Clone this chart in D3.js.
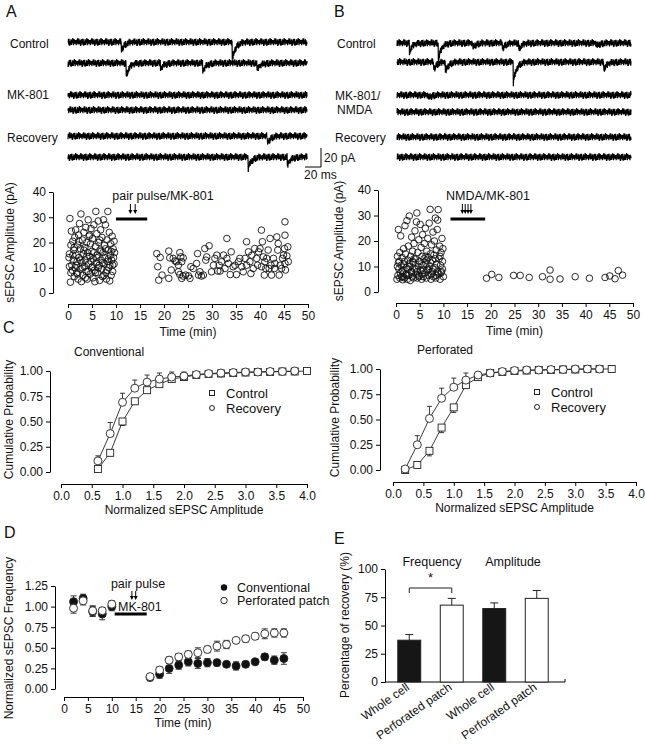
<!DOCTYPE html>
<html>
<head>
<meta charset="utf-8">
<script src="https://cdn.jsdelivr.net/npm/d3@7"></script>
<style>
body { margin: 0; background: #fff; }
svg { font-family: "Liberation Sans", Arial, sans-serif; }
</style>
</head>
<body>
<div id="fig"></div>
<script>
///////////////////////////////////////////////////////////////////////////////////////////////////
// data

// example traces: events are [time (ms), amplitude (pA)] inside a 300 ms sweep
var trace_ms = 300;
var evA_ctrl1 = [[67, 9], [206, 20]];
var evA_ctrl2 = [[73, 14], [116, 7], [169, 10], [237, 8]];
var evA_mk1 = [];
var evA_mk2 = [];
var evA_rec1 = [[250, 8]];
var evA_rec2 = [[226, 13], [275, 10]];
var evB_ctrl1 = [[16, 9], [53, 18], [97, 5], [135, 6], [156, 7], [255, 4]];
var evB_ctrl2 = [[47, 8], [62, 10], [149, 23], [265, 9]];
var evB_mk1 = [[40, 3]];
var evB_mk2 = [];
var evB_rec1 = [];
var evB_rec2 = [];
var noise_pA = [0.4, -1.8, 2.1, -0.6, 1.3, -2.4, 0.9, -0.2, 2.6, -1.1, 0.1, -2.9, 1.7, -0.8, 2.3, -1.5, 0.6, -2.2,
    1.1, -0.4, 2.8, -1.9, 0.3, -1.2, 1.9, -2.6, 0.8, -0.1, 2.4, -1.6, 1.4, -2.0, 0.2, -0.9, 2.0, -2.7, 1.0, -0.5,
    1.6, -1.3, 2.7, -2.3, 0.5, -0.7, 1.2, -2.1, 2.2, -1.0, 0.7, -2.5, 1.5, -0.3, 1.8];

// sEPSC amplitude vs time, [min, pA]
var ampA_before = [[0.2,14],[0.3,15.5],[0.4,29.5],[0.5,4.3],[0.6,19],[0.7,24.5],[0.8,11],[0.9,9],[1.0,20.5],[1.1,13],
    [1.2,17],[1.3,6.5],[1.4,22],[1.5,10],[1.6,25],[1.7,15],[1.8,8],[1.9,12.5],[2.0,19],[2.1,5.5],[2.2,23],[2.3,14],
    [2.4,27.5],[2.5,9.5],[2.6,17.5],[2.7,31.3],[2.8,4.5],[2.9,12],[3.0,21],[3.1,7],[3.2,15.5],[3.3,24],[3.4,10.5],
    [3.5,18],[3.6,13],[3.7,26],[3.8,8.5],[3.9,20],[4.0,5.5],[4.1,16],[4.2,29],[4.3,11.5],[4.4,22.5],[4.5,14.5],
    [4.6,7.5],[4.7,19.5],[4.8,25.5],[4.9,10],[5.0,16.5],[5.1,21.5],[5.2,6],[5.3,13.5],[5.4,27],[5.5,9],[5.6,4.5],
    [5.7,18.5],[5.8,32.3],[5.9,12],[6.0,23.5],[6.1,15],[6.2,8],[6.3,28.5],[6.4,20],[6.5,11],[6.6,5],[6.7,17],
    [6.8,25],[6.9,13],[7.0,9.5],[7.1,22],[7.2,6.5],[7.3,16],[7.4,29],[7.5,11.5],[7.6,19],[7.7,14],[7.8,27],[7.9,8],
    [8.0,5.5],[8.1,21],[8.2,12.5],[8.3,32.3],[8.4,17],[8.5,10],[8.6,24],[8.7,4.8],[8.8,15],[8.9,19.5],[9.0,7],
    [9.1,13],[9.2,22.5],[9.3,11],[9.4,17.5],[9.5,14],[9.6,20.5],[9.7,16],
    [0.3,10.5],[0.6,8],[1.0,15],[1.3,18],[1.7,11],[2.0,7.5],[2.3,20.5],[2.6,13],[3.0,10],[3.3,17],[3.6,6],
    [3.9,14.5],[4.2,8.5],[4.5,23],[4.8,12.5],[5.1,10.5],[5.4,16],[5.7,8],[6.0,14],[6.3,10],[6.6,21],[6.9,16.5],
    [7.2,12],[7.5,7],[7.8,17.5],[8.1,9],[8.4,13.5],[8.7,11],[9.0,16.5],[9.3,8.5],[9.6,11.5]];
var ampA_after = [[18.5,15.6],[19.2,14.1],[18.7,10.4],[18.9,5.1],[19.6,7.1],[21.0,16.6],[21.2,13.9],[21.0,5.8],
    [21.5,9.1],[21.9,13.7],[22.3,12.7],[22.6,12.4],[23.0,11.0],[23.3,16.0],[23.5,14.3],[23.7,12.4],[24.0,13.9],
    [23.0,8.4],[23.3,7.3],[23.7,5.8],[24.0,6.7],[24.5,7.1],[25.1,6.8],[25.4,5.8],[25.6,10.4],[26.1,9.7],[26.8,11.7],
    [27.0,15.6],[27.2,7.1],[27.5,8.4],[27.8,6.7],[28.2,7.1],[28.5,17.6],[28.7,13.0],[28.9,14.3],[29.4,18.7],
    [29.9,8.4],[30.3,11.0],[30.6,13.7],[31.0,15.0],[31.2,8.7],[31.5,11.0],[31.7,8.7],[32.0,12.4],[32.4,15.0],
    [32.7,9.7],[33.1,21.6],[33.1,13.7],[33.4,11.7],[33.8,7.3],[34.0,16.3],[34.4,10.4],[34.8,11.0],[35.1,7.3],
    [35.5,12.4],[35.8,13.7],[36.2,10.4],[36.5,8.4],[36.9,13.7],[37.2,20.3],[37.2,11.0],[37.6,16.3],[37.9,12.4],
    [38.1,7.7],[38.3,15.0],[38.6,9.7],[38.9,17.6],[39.3,13.7],[39.5,11.0],[39.7,16.3],[40.0,17.6],[40.3,24.9],
    [40.3,10.4],[40.5,20.3],[40.7,14.3],[40.9,7.1],[41.0,12.4],[41.2,9.7],[41.4,13.7],[41.7,17.0],[41.9,9.7],
    [42.1,21.6],[42.3,11.0],[42.4,7.1],[42.8,13.7],[43.0,9.7],[43.1,11.7],[43.5,22.2],[43.7,17.0],[43.8,19.6],
    [44.0,7.1],[44.2,11.0],[44.5,9.7],[44.7,13.7],[44.9,15.0],[45.1,17.6],[45.2,28.2],[45.2,22.9],[45.2,11.7],
    [45.3,9.1],[45.6,14.7],[45.8,18.3],[45.9,12.4]];
var ampB_before = [[0.2,5],[0.3,14],[0.4,6.5],[0.5,24.5],[0.6,9],[0.7,12],[0.8,5.5],[0.9,7.5],[1.0,22],[1.1,10.5],
    [1.2,6],[1.3,13.5],[1.4,4.8],[1.5,8.5],[1.6,17],[1.7,11],[1.8,5.5],[1.9,26],[2.0,15],[2.1,7],[2.2,9.5],[2.3,28],
    [2.4,5],[2.5,12.5],[2.6,18],[2.7,6.5],[2.8,29.8],[2.9,10],[3.0,4.5],[3.1,14],[3.2,8],[3.3,21.5],[3.4,6],[3.5,16],
    [3.6,11.5],[3.7,5.5],[3.8,19],[3.9,9],[4.0,24],[4.1,13],[4.2,7],[4.3,27.5],[4.4,31],[4.5,5.5],[4.6,15.5],
    [4.7,10],[4.8,20.5],[4.9,6.5],[5.0,12],[5.1,26.5],[5.2,8.5],[5.3,17.5],[5.4,5],[5.5,14],[5.6,22.5],[5.7,10.5],
    [5.8,6],[5.9,13],[6.0,19],[6.1,7.5],[6.2,25],[6.3,11],[6.4,5.5],[6.5,16],[6.6,9],[6.7,21],[6.8,13.5],[6.9,6.5],
    [7.0,27],[7.1,10],[7.2,32.4],[7.3,15],[7.4,5],[7.5,18.5],[7.6,8],[7.7,12.5],[7.8,23.5],[7.9,6],[8.0,14.5],
    [8.1,20],[8.2,9.5],[8.3,29],[8.4,5.5],[8.5,16.5],[8.6,11],[8.7,24.5],[8.8,28.2],[8.9,32.3],[9.0,7],[9.1,13],
    [9.2,18],[9.3,5],[9.4,10.5],[9.5,15.5],[9.6,8],[9.7,21],[9.8,12],[9.9,17],[10.0,6],
    [0.3,10],[0.8,15.5],[1.3,8],[1.8,12],[2.3,6.5],[2.8,11],[3.3,7.5],[3.8,13],[4.3,9],[4.8,6],[5.3,11],[5.8,8.5],
    [6.3,14],[6.8,8.5],[7.3,11.5],[7.8,9],[8.3,13],[8.8,8],[9.3,14],[9.8,9],[0.5,11.5],[1.5,6],[2.5,9],[3.5,12],
    [4.5,8],[5.5,7],[6.5,12.5],[7.5,7],[8.5,6.5],[9.5,7.5]];
var ampB_after = [[19.1,5.4],[20.2,6.9],[21.7,5.7],[24.8,6.5],[26.2,6.5],[28.1,5.7],[30.9,6.0],[32.5,8.6],
    [32.5,5.0],[34.6,5.1],[37.8,6.0],[40.8,5.4],[44.1,5.7],[45.1,6.3],[46.2,5.2],[46.9,8.4],[47.8,6.6]];

var time_ticks = [0, 5, 10, 15, 20, 25, 30, 35, 40, 45, 50];
var amp_ticks = [0, 10, 20, 30, 40];
var pulseA_times = [13, 14];
var drugA_span = [10, 16.5];
var nmdaB_times = [14, 14.6, 15.2, 15.8];
var drugB_span = [11.5, 18.8];

// cumulative probability of normalized amplitude
var norm_ticks = [0, 0.5, 1, 1.5, 2, 2.5, 3, 3.5, 4];
var prob_ticks = [0, 0.25, 0.5, 0.75, 1];
var conv_x = [0.6, 0.8, 1.0, 1.2, 1.4, 1.6, 1.8, 2.0, 2.2, 2.4, 2.6, 2.8, 3.0, 3.2, 3.4, 3.6, 3.8, 4.0];
var conv_ctrl = [0.03, 0.19, 0.50, 0.70, 0.81, 0.87, 0.92, 0.94, 0.96, 0.97, 0.975, 0.98, 0.985, 0.99, 0.99, 0.995, 0.995, 1.0];
var conv_ctrl_err = [0.02, 0.03, 0.04, 0.03, 0.02, 0.02, 0.02, 0.01, 0.01, 0.01, 0, 0, 0, 0, 0, 0, 0, 0];
var conv_rec = [0.11, 0.38, 0.69, 0.83, 0.89, 0.92, 0.94, 0.95, 0.965, 0.975, 0.98, 0.985, 0.99, 0.99, 0.995, 0.995, 1.0];
var conv_rec_err = [0.05, 0.11, 0.09, 0.08, 0.07, 0.06, 0.05, 0.04, 0.02, 0.01, 0.01, 0, 0, 0, 0, 0, 0];
var perf_x = [0.2, 0.4, 0.6, 0.8, 1.0, 1.2, 1.4, 1.6, 1.8, 2.0, 2.2, 2.4, 2.6, 2.8, 3.0, 3.2, 3.4, 3.6];
var perf_ctrl = [0.0, 0.05, 0.19, 0.42, 0.62, 0.84, 0.92, 0.96, 0.97, 0.98, 0.985, 0.99, 0.99, 0.995, 0.995, 1.0, 1.0, 1.0];
var perf_ctrl_err = [0, 0.01, 0.05, 0.05, 0.05, 0.03, 0.02, 0.01, 0.01, 0, 0, 0, 0, 0, 0, 0, 0, 0];
var perf_rec = [0.01, 0.25, 0.51, 0.71, 0.82, 0.89, 0.94, 0.96, 0.975, 0.985, 0.99, 0.99, 0.995, 0.995, 1.0, 1.0, 1.0];
var perf_rec_err = [0.01, 0.09, 0.12, 0.10, 0.09, 0.07, 0.03, 0.02, 0.01, 0, 0, 0, 0, 0, 0, 0, 0];

// normalized frequency vs time
var freq_ticks = [0, 0.25, 0.5, 0.75, 1, 1.25];
var freq_t = [2, 4, 6, 8, 10, 18, 20, 22, 24, 26, 28, 30, 32, 34, 36, 38, 40, 42, 44, 46];
var freq_conv = [1.06, 1.10, 0.94, 0.91, 1.00, 0.14, 0.18, 0.25, 0.29, 0.33, 0.31, 0.32, 0.32, 0.30, 0.28, 0.30, 0.33, 0.39, 0.35, 0.37];
var freq_conv_err = [0.07, 0.05, 0.06, 0.07, 0.05, 0.04, 0.05, 0.06, 0.05, 0.05, 0.06, 0.05, 0.04, 0.03, 0.05, 0.03, 0.03, 0.04, 0.05, 0.07];
var freq_perf = [0.98, 1.07, 0.95, 0.95, 1.03, 0.15, 0.23, 0.35, 0.39, 0.42, 0.44, 0.48, 0.52, 0.54, 0.59, 0.61, 0.64, 0.67, 0.68, 0.68];
var freq_perf_err = [0.06, 0.05, 0.06, 0.04, 0.04, 0.03, 0.04, 0.04, 0.04, 0.04, 0.06, 0.04, 0.06, 0.05, 0.03, 0.04, 0.04, 0.06, 0.05, 0.05];
var pulseD_times = [14.2, 15];
var drugD_span = [10.6, 17.3];

// percentage of recovery
var pct_labels = ["Whole cell", "Perforated patch", "Whole cell", "Perforated patch"];
var pct_values = [37, 68, 65, 74];
var pct_err = [5, 6, 5, 7];
var pct_ticks = [0, 25, 50, 75, 100];

///////////////////////////////////////////////////////////////////////////////////////////////////

var svg = d3.select("#fig").append("svg")
    .attr("width", 645)
    .attr("height", 746);

function style_axis(g) {
    g.attr("font-family", null).attr("font-size", null);
    g.selectAll("path, line").attr("stroke", "#000");
    g.selectAll("text").attr("font-size", "12px").attr("fill", "#111");
} // end function

function add_text(x, y, s, size, anchor) {
    return svg.append("text")
        .attr("x", x).attr("y", y)
        .attr("font-size", size + "px")
        .attr("text-anchor", anchor || "start")
        .attr("fill", "#111")
        .text(s);
} // end function

function add_ylabel(x, y, s, size) {
    svg.append("text")
        .attr("transform", "translate(" + x + "," + y + ") rotate(-90)")
        .attr("text-anchor", "middle")
        .attr("font-size", size + "px")
        .attr("fill", "#111")
        .text(s);
} // end function

function add_arrow(x, y1, y2) {
    svg.append("line")
        .attr("x1", x).attr("x2", x).attr("y1", y1).attr("y2", y2 - 3)
        .attr("stroke", "#000").attr("stroke-width", 1);
    svg.append("path")
        .attr("d", "M" + (x - 2) + "," + (y2 - 4) + "L" + (x + 2) + "," + (y2 - 4) + "L" + x + "," + y2 + "Z")
        .attr("fill", "#000");
} // end function

///////////////////////////////////////////////////////////////////////////////////////////////////

function d3_trace(events, x0, x1, y_base, offset) {
    //////////////////////////////////////////////////////////////////////
    //
    // One sweep: recorded noise plus the sEPSC dips listed in events
    //
    //////////////////////////////////////////////////////////////////////
    var n = 900;
    var x = d3.scaleLinear().domain([0, trace_ms]).range([x0, x1]);
    var y = d3.scaleLinear().domain([0, 20]).range([y_base, y_base - 19]);
    var pts = [];
    for (var i = 0; i < n; i++) {
        var t = i * trace_ms / (n - 1);
        var v = 1.45 * noise_pA[(i * 7 + offset) % noise_pA.length];
        events.forEach(function(e) {
            if (t >= e[0]) { v -= e[1] * Math.exp(-(t - e[0]) / 4); }
        });
        pts.push([t, v]);
    } // end for
    svg.append("path")
        .datum(pts)
        .attr("d", d3.line().x(function(d) { return x(d[0]); }).y(function(d) { return y(d[1]); }))
        .attr("fill", "none")
        .attr("stroke", "#000")
        .attr("stroke-width", 1.2);
} // end function

///////////////////////////////////////////////////////////////////////////////////////////////////

function d3_amp_scatter(before, after, o) {
    var x = d3.scaleLinear().domain([0, 50]).range([o.x0, o.x1]);
    var y = d3.scaleLinear().domain([0, 40]).range([o.yb, o.yt]);

    svg.append("g")
        .attr("transform", "translate(0," + o.xaxis_y + ")")
        .call(d3.axisBottom(x).tickValues(time_ticks).tickSize(4).tickSizeOuter(0))
        .call(style_axis);
    svg.append("g")
        .attr("transform", "translate(" + o.yaxis_x + ",0)")
        .call(d3.axisLeft(y).tickValues(amp_ticks).tickSize(4).tickSizeOuter(0))
        .call(style_axis);

    svg.append("g").selectAll("circle")
        .data(before.concat(after))
        .join("circle")
            .attr("cx", function(d) { return x(d[0]); })
            .attr("cy", function(d) { return y(d[1]); })
            .attr("r", 3.3)
            .attr("fill", "none")
            .attr("stroke", "#111")
            .attr("stroke-width", 0.9);

    add_text((o.x0 + o.x1) / 2, o.xaxis_y + 32, "Time (min)", 12, "middle");
    add_ylabel(o.ylab_x, (o.yb + o.yt) / 2, "sEPSC Amplitude (pA)", 12);

    // drug bar and stimulus arrows
    svg.append("line")
        .attr("x1", x(o.span[0])).attr("x2", x(o.span[1]))
        .attr("y1", 219).attr("y2", 219)
        .attr("stroke", "#000").attr("stroke-width", 3);
    o.arrows.forEach(function(t) { add_arrow(x(t), 204, 214); });
    add_text(o.note_x, 200, o.note, 12.5, "middle");
} // end function

///////////////////////////////////////////////////////////////////////////////////////////////////

function d3_cdf(xs, ctrl, ctrl_err, rec, rec_err, o) {
    var x = d3.scaleLinear().domain([0, 4]).range([o.x0, o.x1]);
    var y = d3.scaleLinear().domain([0, 1]).range([o.yb, o.yt]);

    svg.append("g")
        .attr("transform", "translate(0," + o.xaxis_y + ")")
        .call(d3.axisBottom(x).tickValues(norm_ticks).tickFormat(d3.format(".1f")).tickSize(4).tickSizeOuter(0))
        .call(style_axis);
    svg.append("g")
        .attr("transform", "translate(" + o.yaxis_x + ",0)")
        .call(d3.axisLeft(y).tickValues(prob_ticks).tickFormat(d3.format(".2f")).tickSize(4).tickSizeOuter(0))
        .call(style_axis);

    var line = d3.line().x(function(d) { return x(d[0]); }).y(function(d) { return y(d[1]); });
    var c = xs.map(function(v, i) { return [v, ctrl[i], ctrl_err[i]]; });
    var r = rec.map(function(v, i) { return [xs[i], v, rec_err[i]]; });

    var g = svg.append("g").attr("stroke", "#222").attr("stroke-width", 0.9);
    g.append("path").datum(c).attr("d", line).attr("fill", "none");
    g.append("path").datum(r).attr("d", line).attr("fill", "none");

    // error bars: control downward, recovery upward
    c.filter(function(d) { return d[2] > 0; }).forEach(function(d) {
        g.append("line").attr("x1", x(d[0])).attr("x2", x(d[0])).attr("y1", y(d[1])).attr("y2", y(d[1] - d[2]));
        g.append("line").attr("x1", x(d[0]) - 2.5).attr("x2", x(d[0]) + 2.5).attr("y1", y(d[1] - d[2])).attr("y2", y(d[1] - d[2]));
    });
    r.filter(function(d) { return d[2] > 0; }).forEach(function(d) {
        g.append("line").attr("x1", x(d[0])).attr("x2", x(d[0])).attr("y1", y(d[1])).attr("y2", y(d[1] + d[2]));
        g.append("line").attr("x1", x(d[0]) - 2.5).attr("x2", x(d[0]) + 2.5).attr("y1", y(d[1] + d[2])).attr("y2", y(d[1] + d[2]));
    });

    g.selectAll("rect.sq").data(c).join("rect")
        .attr("class", "sq")
        .attr("x", function(d) { return x(d[0]) - 3.5; })
        .attr("y", function(d) { return y(d[1]) - 3.5; })
        .attr("width", 7).attr("height", 7)
        .attr("fill", "#fff");
    g.selectAll("circle.rc").data(r).join("circle")
        .attr("class", "rc")
        .attr("cx", function(d) { return x(d[0]); })
        .attr("cy", function(d) { return y(d[1]); })
        .attr("r", 4)
        .attr("fill", "#fff");

    add_text((o.x0 + o.x1) / 2, o.xaxis_y + 30, "Normalized sEPSC Amplitude", 12, "middle");
    add_ylabel(o.ylab_x, (o.yb + o.yt) / 2 - 2, "Cumulative Probability", 12);
    add_text(o.title_x, o.yt - 15, o.title, 12);

    // legend
    svg.append("rect").attr("x", o.leg_x - 2.5).attr("y", o.leg_y - 2.5).attr("width", 5).attr("height", 5)
        .attr("fill", "none").attr("stroke", "#222");
    svg.append("circle").attr("cx", o.leg_x).attr("cy", o.leg_y + 15).attr("r", 2.5)
        .attr("fill", "none").attr("stroke", "#222");
    add_text(o.leg_x + 14, o.leg_y + 4.5, "Control", 13);
    add_text(o.leg_x + 14, o.leg_y + 19.5, "Recovery", 13);
} // end function

///////////////////////////////////////////////////////////////////////////////////////////////////

function d3_freq() {
    var x = d3.scaleLinear().domain([0, 50]).range([64, 303]);
    var y = d3.scaleLinear().domain([0, 1.25]).range([689, 586]);

    svg.append("g")
        .attr("transform", "translate(0,697)")
        .call(d3.axisBottom(x).tickValues(time_ticks).tickSize(4).tickSizeOuter(0))
        .call(style_axis);
    svg.append("g")
        .attr("transform", "translate(55,0)")
        .call(d3.axisLeft(y).tickValues(freq_ticks).tickFormat(d3.format(".2f")).tickSize(4).tickSizeOuter(0))
        .call(style_axis);

    var series = [
        { v: freq_conv, e: freq_conv_err, fill: "#111" },
        { v: freq_perf, e: freq_perf_err, fill: "#fff" }
    ];
    series.forEach(function(s) {
        var g = svg.append("g").attr("stroke", "#222").attr("stroke-width", 0.9);
        freq_t.forEach(function(t, i) {
            var cx = x(t);
            g.append("line").attr("x1", cx).attr("x2", cx).attr("y1", y(s.v[i] - s.e[i])).attr("y2", y(s.v[i] + s.e[i]));
            g.append("line").attr("x1", cx - 3).attr("x2", cx + 3).attr("y1", y(s.v[i] + s.e[i])).attr("y2", y(s.v[i] + s.e[i]));
            g.append("line").attr("x1", cx - 3).attr("x2", cx + 3).attr("y1", y(s.v[i] - s.e[i])).attr("y2", y(s.v[i] - s.e[i]));
        });
        g.selectAll("circle").data(freq_t).join("circle")
            .attr("cx", function(d) { return x(d); })
            .attr("cy", function(d, i) { return y(s.v[i]); })
            .attr("r", 4)
            .attr("fill", s.fill);
    });

    add_text(183, 727, "Time (min)", 12, "middle");
    add_ylabel(13, 638, "Normalized sEPSC Frequency", 12);

    svg.append("line")
        .attr("x1", x(drugD_span[0])).attr("x2", x(drugD_span[1]))
        .attr("y1", 614).attr("y2", 614)
        .attr("stroke", "#000").attr("stroke-width", 3);
    pulseD_times.forEach(function(t) { add_arrow(x(t), 591, 600); });
    add_text(138, 588, "pair pulse", 12.5, "middle");
    add_text(118, 611, "MK-801", 12.5);

    svg.append("circle").attr("cx", 224).attr("cy", 587.5).attr("r", 3.2).attr("fill", "#111");
    svg.append("circle").attr("cx", 224).attr("cy", 600.5).attr("r", 3.2).attr("fill", "none").attr("stroke", "#222");
    add_text(237, 591.5, "Conventional", 12.5);
    add_text(237, 604.5, "Perforated patch", 12.5);
} // end function

///////////////////////////////////////////////////////////////////////////////////////////////////

function d3_recovery_bars() {
    var x = d3.scaleBand().domain(d3.range(pct_values.length)).range([388, 558])
        .paddingInner(0.46).paddingOuter(0.23);
    var y = d3.scaleLinear().domain([0, 100]).range([682, 569]);

    svg.append("g")
        .attr("transform", "translate(385,0)")
        .call(d3.axisLeft(y).tickValues(pct_ticks).tickSize(4).tickSizeOuter(0))
        .call(style_axis);
    svg.append("line").attr("x1", 385).attr("x2", 565).attr("y1", 682).attr("y2", 682).attr("stroke", "#000");
    svg.append("line").attr("x1", 565).attr("x2", 565).attr("y1", 682).attr("y2", 679).attr("stroke", "#000");

    pct_values.forEach(function(v, i) {
        var cx = x(i) + x.bandwidth() / 2;
        svg.append("line").attr("x1", cx).attr("x2", cx).attr("y1", y(v)).attr("y2", y(v + pct_err[i]))
            .attr("stroke", "#222");
        svg.append("line").attr("x1", cx - 4).attr("x2", cx + 4).attr("y1", y(v + pct_err[i])).attr("y2", y(v + pct_err[i]))
            .attr("stroke", "#222");
        svg.append("rect")
            .attr("x", x(i)).attr("width", x.bandwidth())
            .attr("y", y(v)).attr("height", y(0) - y(v))
            .attr("fill", i % 2 === 0 ? "#161616" : "#fff")
            .attr("stroke", "#222").attr("stroke-width", 1);
        svg.append("text")
            .attr("transform", "translate(" + (cx + 1) + ",689) rotate(-35)")
            .attr("text-anchor", "end")
            .attr("font-size", "12px")
            .attr("fill", "#111")
            .text(pct_labels[i]);
    });

    // significance bracket between the two frequency bars
    var b1 = x(0) + x.bandwidth() / 2, b2 = x(1) + x.bandwidth() / 2;
    svg.append("path")
        .attr("d", "M" + b1 + ",593V588H" + b2 + "V593")
        .attr("fill", "none").attr("stroke", "#222");
    add_text((b1 + b2) / 2, 582, "*", 13, "middle");
    add_text(432, 566, "Frequency", 12.5, "middle");
    add_text(513, 566, "Amplitude", 12.5, "middle");
    add_ylabel(349, 625, "Percentage of  recovery (%)", 12);
} // end function

///////////////////////////////////////////////////////////////////////////////////////////////////

// panel letters
add_text(6, 17, "A", 16);
add_text(334, 17, "B", 16);
add_text(3, 333, "C", 16);
add_text(4, 538, "D", 16);
add_text(334, 544, "E", 16);

// A traces
add_text(10, 48, "Control", 12);
add_text(7, 99, "MK-801", 12);
add_text(7, 142, "Recovery", 12);
d3_trace(evA_ctrl1, 68, 307, 42, 0);
d3_trace(evA_ctrl2, 68, 307, 63, 11);
d3_trace(evA_mk1, 68, 307, 95, 23);
d3_trace(evA_mk2, 68, 307, 110, 37);
d3_trace(evA_rec1, 68, 307, 136, 5);
d3_trace(evA_rec2, 68, 307, 157, 29);

// B traces
add_text(337, 48, "Control", 12);
add_text(335, 100, "MK-801/", 12);
add_text(337, 114, "NMDA", 12);
add_text(335, 142, "Recovery", 12);
d3_trace(evB_ctrl1, 397, 631, 43, 17);
d3_trace(evB_ctrl2, 397, 631, 62, 3);
d3_trace(evB_mk1, 397, 631, 95, 41);
d3_trace(evB_mk2, 397, 631, 112, 13);
d3_trace(evB_rec1, 397, 631, 137, 31);
d3_trace(evB_rec2, 397, 631, 157, 47);

// scale bar
svg.append("path").attr("d", "M305,167H321V148").attr("fill", "none").attr("stroke", "#000").attr("stroke-width", 1);
add_text(324, 162, "20 pA", 12);
add_text(304, 179, "20 ms", 12);

d3_amp_scatter(ampA_before, ampA_after, {
    x0: 68, x1: 308, yb: 293, yt: 192, xaxis_y: 304, yaxis_x: 53, ylab_x: 14,
    span: drugA_span, arrows: pulseA_times, note: "pair pulse/MK-801", note_x: 163
});
d3_amp_scatter(ampB_before, ampB_after, {
    x0: 396, x1: 633, yb: 292, yt: 190, xaxis_y: 303, yaxis_x: 378, ylab_x: 343,
    span: drugB_span, arrows: nmdaB_times, note: "NMDA/MK-801", note_x: 488
});

d3_cdf(conv_x, conv_ctrl, conv_ctrl_err, conv_rec, conv_rec_err, {
    x0: 61, x1: 307, yb: 472, yt: 371, xaxis_y: 484, yaxis_x: 50, ylab_x: 13,
    title: "Conventional", title_x: 74, leg_x: 212, leg_y: 393
});
d3_cdf(perf_x, perf_ctrl, perf_ctrl_err, perf_rec, perf_rec_err, {
    x0: 393, x1: 636, yb: 470, yt: 369, xaxis_y: 482, yaxis_x: 380, ylab_x: 339,
    title: "Perforated", title_x: 417, leg_x: 537, leg_y: 392
});

d3_freq();
d3_recovery_bars();
</script>
</body>
</html>
